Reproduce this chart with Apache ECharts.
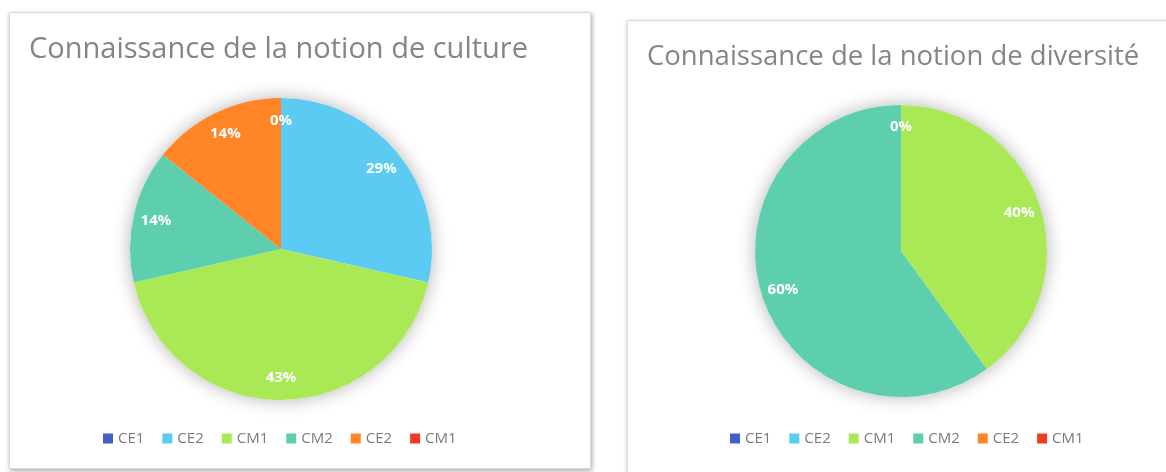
<!DOCTYPE html>
<html>
<head>
    <meta charset="utf-8">
    <title>Connaissance des notions</title>
    <script src="https://cdn.jsdelivr.net/npm/echarts@6/dist/echarts.min.js"></script>
    <style>
        html, body { margin: 0; padding: 0; width: 1166px; height: 472px; overflow: hidden; background: #fff; }
        .panel { position: absolute; background: #fff; border: 1px solid #d9d9d9; box-shadow: 1px 2px 5px rgba(0,0,0,0.35); }
    </style>
</head>
<body>
<!-- deux cadres, un graphique chacun -->
<div id="chartCulture" class="panel" style="left:9px;top:12px;width:580px;height:455px;"></div>
<div id="chartDiversite" class="panel" style="left:627px;top:20px;width:560px;height:470px;"></div>
<script type="text/javascript">
    // données
    var categories = ['CE1', 'CE2', 'CM1', 'CM2', 'CE2', 'CM1'];
    var colors = ['#4360c8', '#5ccbf4', '#a9e955', '#5ecfae', '#ff8527', '#f03b24'];
    var cultureValues = [0, 2, 3, 1, 1, 0];
    var diversiteValues = [0, 0, 2, 3, 0, 0];

    // les noms se répètent (CE2, CM1) : clés uniques, libellé via formatter
    var keys = categories.map(function (c, i) { return 'k' + i; });

    function buildOption(title, titleSize, values, center, radius, legendPos) {
        var data = values.map(function (v, i) {
            return { name: keys[i], value: v, itemStyle: { color: colors[i] } };
        });
        var labelData = values.map(function (v, i) {
            return { name: keys[i], value: v };
        });
        return {
            animation: false,
            title: {
                text: title,
                left: 14,
                top: 17,
                textStyle: {
                    fontFamily: 'Open Sans',
                    fontWeight: 'normal',
                    fontSize: titleSize,
                    color: '#858585'
                }
            },
            legend: {
                left: legendPos[0],
                top: legendPos[1],
                icon: 'rect',
                itemWidth: 10,
                itemHeight: 10,
                itemGap: 18,
                data: keys,
                formatter: function (name) {
                    return categories[keys.indexOf(name)];
                },
                textStyle: {
                    fontFamily: 'Open Sans',
                    fontSize: 15,
                    color: '#7a7a7a'
                }
            },
            series: [
                {
                    // ombre sous le disque
                    type: 'pie',
                    silent: true,
                    center: center,
                    radius: radius,
                    label: { show: false },
                    data: [{ name: '_fond', value: 1 }],
                    itemStyle: {
                        color: '#ffffff',
                        shadowBlur: 18,
                        shadowColor: 'rgba(0,0,0,0.3)'
                    }
                },
                {
                    type: 'pie',
                    center: center,
                    radius: radius,
                    startAngle: 90,
                    clockwise: true,
                    label: { show: false },
                    labelLine: { show: false },
                    data: data
                },
                {
                    // étiquettes placées vers le bord
                    type: 'pie',
                    silent: true,
                    center: center,
                    radius: [radius * 0.66, radius],
                    startAngle: 90,
                    clockwise: true,
                    itemStyle: { color: 'rgba(0,0,0,0)' },
                    label: {
                        show: true,
                        position: 'inside',
                        fontFamily: 'Open Sans',
                        fontWeight: 'bold',
                        fontSize: 15,
                        color: '#ffffff',
                        formatter: function (p) {
                            return Math.round(p.percent) + '%';
                        }
                    },
                    labelLine: { show: false },
                    data: labelData
                }
            ]
        };
    }

    var chart1 = echarts.init(document.getElementById('chartCulture'));
    chart1.setOption(buildOption('Connaissance de la notion de culture', 29, cultureValues, [271, 236], 151, [88, 413]));

    var chart2 = echarts.init(document.getElementById('chartDiversite'));
    chart2.setOption(buildOption('Connaissance de la notion de diversité', 27.5, diversiteValues, [273, 230], 146, [97, 405]));
</script>
</body>
</html>
